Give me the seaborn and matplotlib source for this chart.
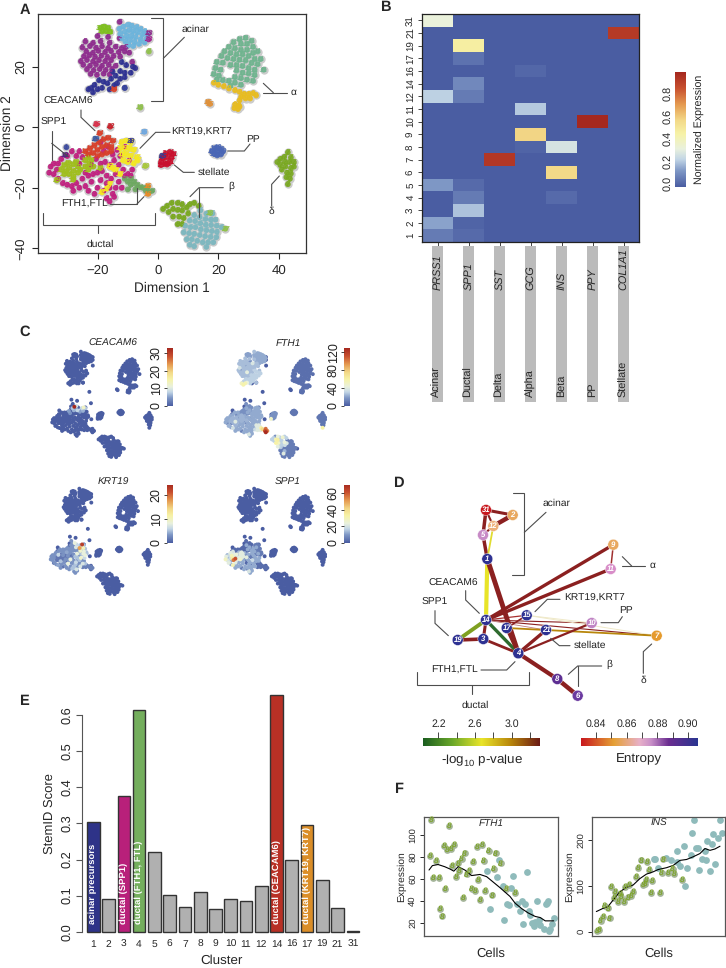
import numpy as np
import pandas as pd
import matplotlib
matplotlib.use("Agg")
import matplotlib.pyplot as plt
from matplotlib.colors import LinearSegmentedColormap
import seaborn as sns

sns.set_style("ticks")
plt.rcParams["font.family"] = ["Liberation Sans", "DejaVu Sans"]
plt.rcParams["mathtext.default"] = "regular"
plt.rcParams["text.hinting"] = "no_hinting"

W, H = 726, 968
fig = plt.figure(figsize=(W / 100, H / 100), dpi=100)


def ax_px(l, t, r, b):
    return fig.add_axes([l / W, 1 - b / H, (r - l) / W, (b - t) / H])


expr_cmap = LinearSegmentedColormap.from_list("expr", [
    (0.0, "#4A5DA2"), (0.14, "#7F98C6"), (0.24, "#C3D6E6"), (0.33, "#E9F1DE"),
    (0.46, "#F7F3A8"), (0.58, "#F3D988"), (0.72, "#E59A50"), (0.86, "#C8502F"),
    (1.0, "#A5281F")])

# ---- t-SNE cells
purple_pts = [(-24, 28.3), (-21.5, 27.8), (-19, 28.4), (-16, 27.9), (-25, 26.3), (-22.5, 26.8), (-20.5, 26.2),
              (-18.5, 26.7), (-16.5, 26.1), (-14, 26.6), (-12, 26.1), (-10.5, 26.5), (-23.7, 25), (-21.5, 24.6),
              (-19.7, 25.2), (-17.5, 24.8), (-15.5, 25.1), (-13, 24.8), (-11, 25), (-9.5, 24.6), (-24.5, 23.4),
              (-22.7, 23.7), (-20.8, 23.2), (-18.7, 23.6), (-16.7, 23.1), (-14.7, 23.5), (-12.5, 23.3), (-25.5, 21.8),
              (-23.5, 22.2), (-21.5, 21.7), (-19.5, 22.1), (-17.5, 21.8), (-15.5, 22.1), (-24.7, 20.6), (-22.5, 20.3),
              (-20.5, 20.7), (-18.5, 20.3), (-16.3, 20.6), (-14, 20.3), (-23.5, 19.1), (-21.3, 18.8), (-19.3, 19.2),
              (-17.3, 18.9), (-15.2, 19.1), (-22.3, 17.6), (-20.2, 17.3), (-18, 17.7), (-16, 17.4), (-12.7, 34.8),
              (-12.7, 29.4), (-16.5, 29.8), (-20, 30.1), (-8.5, 21.5)]
blue_pts = [(-12, 21.5), (-10.5, 20.5), (-8.3, 20), (-12.5, 18.5), (-11, 18), (-9, 18), (-7.5, 19.5), (-14, 17),
            (-15.5, 16), (-16.7, 14.5), (-18, 15), (-19.5, 15.5), (-21, 14), (-22, 13), (-20, 12.5), (-18.5, 13),
            (-16, 12.5), (-14.5, 13.8), (-12.5, 16), (-11, 16.5), (-23, 12.5), (-21.5, 11.5), (-11, 13), (-13.5, 14.5),
            (-15, 18.3)]
skyblue_pts = [(-12.8, 32.5), (-11.5, 33.2), (-10, 33.8), (-8.7, 33.5), (-7.2, 33), (-5.8, 32.4), (-4.5, 31.6),
               (-3.5, 30.5), (-12.5, 30.8), (-11, 31.5), (-9.6, 32), (-8.2, 31.7), (-6.7, 31.3), (-5.2, 30.6),
               (-3.9, 29.2), (-12, 29.3), (-10.4, 30), (-8.9, 30.2), (-7.4, 29.8), (-5.8, 29), (-4.4, 28), (-10.8, 28.3),
               (-9.3, 28.7), (-7.8, 28.2), (-6.3, 27.5), (-9.8, 27), (-8.2, 26.8)]
lime31_pts = [(-19, 32.8), (-17.8, 33.2), (-16.5, 32.8), (-18.5, 31.6), (-17.2, 31.7), (-15.8, 31.5)]
alpha_pts = [(27, 29), (29, 29.5), (31, 28.5), (25, 28), (27.5, 27.5), (29.5, 27.5), (31.5, 26.5), (33, 25), (23.5, 26.5),
             (25.5, 26), (27.5, 25.5), (29.5, 25.5), (31.5, 24.5), (22, 25), (24, 24.5), (26, 24), (28, 24), (30, 23.5),
             (32, 22.5), (34, 22.5), (21, 23.5), (23, 22.8), (25, 22.5), (27, 22.3), (29, 22), (31, 21.2), (33, 20.8),
             (35, 19), (19.5, 21.5), (21.5, 21.3), (24, 20.5), (26, 20.5), (28, 20.2), (30, 19.5), (32, 19), (19, 19.5),
             (20.7, 19), (26, 18.7), (28, 18), (30, 17.7), (32, 17.2), (18.5, 17.5), (20.2, 17), (25.5, 16.5),
             (27.5, 16.2), (29.5, 15.7), (31.5, 15.3), (19.5, 15.7), (21.5, 15.5), (23.5, 15.3), (25.5, 14.7),
             (27.5, 14), (24, 13.7)]
yellow9_pts = [(18.5, 14.7), (20, 14), (21.8, 13.5), (23.5, 12.8), (25.5, 12.2), (27, 11.7), (28.5, 11), (30, 11),
               (31.5, 11.2), (32.5, 10.5), (27.5, 10), (29, 9.5), (30.5, 9.5), (27, 8.9), (25.5, 7.5), (26.7, 7.2),
               (25.3, 6.3), (26.5, 6), (27, 6.8)]
magenta_pts = [(-35.5, -13), (-36, -15), (-34.5, -15.5), (-34.5, -12), (-33, -17), (-31.5, -18.5), (-30, -19), (-28.5, -19.5),
               (-27, -18.5), (-26, -20), (-25, -17), (-24, -19.5), (-23, -21), (-22, -18), (-21, -22), (-20, -20), (-19, -17.5),
               (-18, -21), (-17, -23.5), (-16, -20), (-15, -22), (-24, -15), (-23, -16), (-21.5, -15.5), (-20, -15), (-18.5, -14.5),
               (-17, -16), (-15.5, -17), (-14, -15.5), (-13, -18), (-12, -20), (-11, -16.2), (-10, -15.5), (-19, -12), (-17.5, -11.5),
               (-16, -12.5), (-14.5, -11), (-13, -12.5), (-11.5, -14), (-15, -9), (-13.5, -7.5), (-12.5, -9.5), (-11, -6.5), (-26, -8),
               (-27, -9.5), (-28.5, -8), (-25, -10), (-30, -9.5), (-32, -10.5), (-33, -12), (-26, -12), (-18, -8), (-16.5, -6.5),
               (-9.5, -11), (-8.5, -14), (-9, -16), (-14, -20), (-17, -18.5), (-22, -12.5), (-20.5, -10.5), (-19, -5), (-14.5, -23),
               (-16, -24.5), (-28, -21), (-33.5, -14)]
lime19_pts = [(-32, -14), (-31, -12.5), (-31, -15.5), (-29.8, -11.8), (-29.5, -13.5), (-29.5, -15.5), (-28, -12.3), (-28, -14.5),
              (-28, -16.3), (-26.5, -13), (-26.5, -15), (-25.7, -14), (-30.5, -14.5), (-27.2, -11.5), (-24, -11), (-23, -10),
              (-22, -11), (-24, -13), (-22.8, -12.3), (-21.5, -13), (-23, -14), (-33.5, -17.5), (-19, -13.5), (-28, -17.3)]
red14_pts = [(-24, -8), (-22.5, -7), (-21, -6), (-19.5, -5), (-18, -4), (-16.5, -3.5), (-15, -4.5), (-23, -9), (-21.5, -8.5), (-20, -7.5),
             (-18.5, -6.5), (-17, -6), (-15.5, -6.5), (-20, -9.5), (-18.5, -9), (-17, -8.5), (-15.5, -8), (-19.3, -2)]
yellow17_pts = [(-12, -5), (-10.5, -4.5), (-9, -5), (-12.5, -7), (-11, -7), (-9.5, -7), (-8, -7.5), (-12, -9), (-10.5, -9), (-9, -9.5),
                (-7, -10), (-11.5, -11), (-10, -11.5), (-8, -12), (-6.7, -11), (-16, -13), (-14, -14), (-12.5, -15.5), (-15, -13.5),
                (-17, -20.3), (-16, -18.7), (-18.5, -21.5)]
green4_pts = [(-11, -17), (-10, -18), (-9, -19), (-8, -18), (-7, -19), (-6, -19.8), (-5, -20), (-4, -21), (-3, -21.5), (-2, -21),
              (-9, -17), (-7.5, -20.5), (-3.5, -20), (-10, -20.5)]
orange16_pts = [(-3.3, -19.5), (-3.3, -22)]
stellate_pts = [(1, -11.5), (2.5, -12), (4, -11.5), (1.5, -10.2), (3, -10), (4.5, -10), (2.5, -8.7), (4, -8.3), (5, -8.8), (1, -12.5), (3, -12.3)]
pp_pts = [(17.8, -8), (18.7, -7), (19.8, -6.7), (20.8, -7.2), (21.5, -8), (20.8, -9), (19.6, -9.3), (18.6, -8.8), (19.6, -8)]
delta_pts = [(39.5, -11.5), (40.5, -10.5), (41.8, -9.8), (43, -8.3), (44, -10), (45, -11.5), (45, -13), (43.5, -11.5), (42, -11.5),
             (40.5, -12.5), (42.2, -13), (44, -13.5), (41, -14), (42.7, -15), (44, -15.3), (42.5, -16.5), (43.7, -17), (43, -18.8)]
beta8_pts = [(1.7, -27), (3, -26), (4.5, -25), (6.5, -25), (8, -25.5), (3.5, -28), (5, -27), (6.5, -27.3), (8, -27.5), (9.5, -26.5),
             (10.5, -25.5), (12, -25), (5, -29.5), (7, -29.5), (8.5, -30), (10, -28.5), (6.5, -32), (8, -32), (13.5, -26)]
beta6_pts = [(14, -27.5), (16, -28.5), (18, -28.5), (12, -29), (13.8, -29.7), (15.7, -30.3), (17.5, -30.5), (19, -30.5), (10.5, -30.8),
             (12.3, -31), (14, -31.7), (15.8, -32.2), (17.6, -32.3), (19.4, -32.5), (21, -33), (9, -32.5), (10.7, -33), (12.4, -33),
             (14.2, -33.7), (16, -34), (17.8, -34.3), (19.5, -34.5), (8.5, -34.7), (10.3, -35), (12, -35.2), (13.8, -35.6), (15.6, -36),
             (17.4, -36.2), (19.3, -36.3), (9.5, -37), (11.2, -37), (13, -37.5), (14.8, -38), (16.6, -38), (18.3, -38), (10.5, -38.8),
             (12, -39.3), (16, -39.5)]
# small clusters: number, colour, cell
small_clusters = [("15", "#E0913A", (16.6, 8.3)), ("15", "#E0913A", (17.2, 7.7)), ("13", "#8FC04A", (-5.8, 6.5)),
                  ("15", "#6FA8E0", (-4.5, -1.5)), ("20", "#A8C83A", (-4.2, -12.8)), ("30", "#3A3A8E", (-9, -4.5)),
                  ("26", "#D8304A", (-20.4, 1)), ("22", "#C8202A", (-15.8, 0.2)), ("29", "#3C5AA0", (-20.7, -3.8)),
                  ("1", "#3C4A9E", (-30.3, -6.6)), ("13", "#55287E", (-30.6, -9.2)), ("25", "#3C3A8E", (1.3, -9.5)),
                  ("27", "#8FC04A", (22.3, -33.5)), ("13", "#8FC04A", (17.3, -28.3)), ("14", "#D8402A", (-14.5, 12.5)),
                  ("18", "#8E2C8E", (-3.1, 31)), ("23", "#A0208E", (-3.1, 29)), ("7", "#8FC04A", (-3, 25)), ("1", "#3C4A9E", (-11, 13))]

clusters = {
    "purple": (purple_pts, "5", "#8E2C8E"), "blue": (blue_pts, "1", "#2E3192"), "skyblue": (skyblue_pts, "2", "#6CB4DC"),
    "lime31": (lime31_pts, "31", "#7FBF20"), "alpha": (alpha_pts, "11", "#70B48F"), "yellow9": (yellow9_pts, "9", "#E8BC20"),
    "magenta": (magenta_pts, "3", "#C0207F"), "lime19": (lime19_pts, "19", "#A0BE1E"), "red14": (red14_pts, "14", "#D8402A"),
    "yellow17": (yellow17_pts, "17", "#F5E820"), "green4": (green4_pts, "4", "#6DA860"), "orange16": (orange16_pts, "16", "#E88B2A"),
    "stellate": (stellate_pts, "21", "#C8102E"), "pp": (pp_pts, "10", "#4A66B5"), "delta": (delta_pts, "7", "#79A820"),
    "beta8": (beta8_pts, "8", "#79A820"), "beta6": (beta6_pts, "6", "#7DB7BF"),
}

rows = []
for name, (pts, lab, col) in clusters.items():
    for i, p in enumerate(pts):
        rows.append(dict(x=p[0], y=p[1], cluster=name, idx=i, label=lab, color=col))
for lab, col, p in small_clusters:
    rows.append(dict(x=p[0], y=p[1], cluster="small", idx=0, label=lab, color=col))
cells = pd.DataFrame(rows)

# ---- panel C: expression level per cluster, plus single cells that stand out
ceacam6_levels = {}
ceacam6_spots = {"red14": {4: 33, 1: 5, 3: 7, 5: 9, 8: 4, 10: 6, 11: 5, 12: 8}, "yellow17": {0: 8, 1: 13, 2: 7, 4: 5}, "magenta": {40: 5, 42: 6}}
fth1_levels = {"purple": 26, "skyblue": 22, "blue": 30, "lime31": 20, "alpha": 6, "yellow9": 6, "magenta": 22, "lime19": 24,
               "red14": 16, "yellow17": 22, "green4": 40, "orange16": 120, "stellate": 16, "pp": 8, "delta": 8, "beta8": 30, "beta6": 10}
fth1_spots = {"blue": {20: 52, 21: 58, 22: 26, 14: 56, 15: 44}, "purple": {3: 16, 9: 38, 14: 12, 20: 36, 28: 10, 36: 42},
              "orange16": {0: 105, 1: 128}, "green4": {5: 75, 7: 110, 8: 115, 9: 100, 4: 60, 12: 50},
              "beta8": {6: 58, 7: 62, 10: 48, 12: 60, 13: 52, 16: 42, 2: 16, 3: 44},
              "beta6": {3: 44, 4: 38, 8: 30, 9: 34, 15: 28, 24: 24, 30: 40},
              "magenta": {2: 14, 6: 36, 12: 12, 18: 38, 24: 12, 30: 34, 35: 10, 44: 14, 50: 10},
              "delta": {17: 60}, "stellate": {9: 50}, "lime19": {2: 14, 7: 40, 11: 16}}
krt19_levels = {"magenta": 3, "lime19": 1.5, "red14": 3, "yellow17": 5, "green4": 2}
krt19_spots = {"yellow17": {1: 22, 3: 17, 5: 10, 7: 9, 9: 8, 13: 8},
               "magenta": {6: 4, 9: 1, 13: 8, 17: 5, 20: 7, 22: 1, 24: 8, 27: 6, 30: 7, 33: 1, 36: 8, 38: 9, 42: 7, 53: 8, 54: 6},
               "red14": {2: 1, 5: 8, 6: 6, 12: 7}, "lime19": {3: 6, 8: 5, 15: 4}, "green4": {1: 7, 3: 5}}
spp1_levels = {"magenta": 12, "lime19": 22, "red14": 2, "yellow17": 5, "green4": 3}
spp1_spots = {"lime19": {0: 18, 1: 30, 2: 12, 4: 26, 5: 55, 6: 14, 7: 60, 12: 34, 13: 24, 9: 16},
              "magenta": {0: 22, 1: 28, 2: 20, 4: 18, 6: 30, 12: 5, 16: 2, 18: 20, 21: 26, 24: 3, 28: 18, 33: 3, 35: 2, 43: 2, 44: 3, 45: 2, 46: 14,
                          47: 20, 48: 22, 49: 18}}

# ---- panel B
heat_rows = ["31", "21", "19", "17", "16", "14", "12", "11", "10", "9", "8", "7", "6", "5", "4", "3", "2", "1"]
heat_genes = ["PRSS1", "SPP1", "SST", "GCG", "INS", "PPY", "COL1A1"]
heat_types = ["Acinar", "Ductal", "Delta", "Alpha", "Beta", "PP", "Stellate"]
heat_values = [
    [0.32, 0, 0, 0, 0, 0, 0],
    [0, 0, 0, 0, 0, 0, 0.89],
    [0, 0.46, 0, 0, 0, 0, 0],
    [0, 0.05, 0, 0, 0, 0, 0],
    [0, 0, 0, 0.025, 0, 0, 0],
    [0, 0.10, 0, 0, 0, 0, 0],
    [0.22, 0.07, 0, 0, 0, 0, 0],
    [0, 0, 0, 0.21, 0, 0, 0],
    [0, 0, 0, 0, 0, 0.95, 0],
    [0, 0, 0, 0.56, 0, 0, 0],
    [0, 0, 0, 0.015, 0.27, 0, 0],
    [0, 0, 0.9, 0, 0, 0, 0],
    [0, 0, 0, 0, 0.55, 0, 0],
    [0.13, 0.03, 0, 0, 0, 0, 0],
    [0, 0.07, 0, 0, 0.03, 0, 0],
    [0, 0.20, 0, 0, 0, 0, 0],
    [0.15, 0.015, 0, 0, 0, 0, 0],
    [0.07, 0.03, 0, 0, 0, 0, 0],
]

# ---- panel D
node_names = ["31", "2", "12", "5", "1", "9", "11", "14", "15", "17", "10", "21", "7", "19", "3", "4", "8", "6"]
node_x = [486, 512.7, 493.3, 483, 487.3, 613.3, 610.7, 486, 526.7, 506.7, 591.7, 546, 656.7, 457.7, 483.3, 518.3, 557.3, 577.7]
node_y = [510, 515, 526, 535, 559, 544.7, 569, 620, 615.3, 628, 623, 630, 635.7, 640, 639, 653.3, 679, 695.7]
node_colors = ["#C8181E", "#E8A860", "#EDB07A", "#C78AC6", "#2E3192", "#E8A860", "#D88DC8", "#2E3192", "#2E3192", "#2E3192",
               "#C084C4", "#2E3192", "#E59A2C", "#2E3192", "#2E3192", "#2E3192", "#5D2E92", "#6B3AA0"]
edges = [("14", "15", "#A83030", 0.9), ("14", "10", "#8B2020", 0.8), ("14", "7", "#8B2020", 0.8), ("15", "10", "#EFE9C8", 0.7),
         ("15", "7", "#EFE9C8", 0.7), ("21", "14", "#C08080", 0.6),
         ("31", "2", "#8B2020", 2.2), ("31", "12", "#8B2020", 1.5), ("31", "5", "#8B2020", 2.5), ("2", "12", "#8B2020", 3.2),
         ("12", "5", "#8B2020", 1.5), ("5", "1", "#8B2020", 2.5), ("12", "1", "#E0DC30", 1.3), ("1", "14", "#E8E428", 3),
         ("1", "4", "#8B2020", 3.5), ("14", "9", "#8B2020", 2.4), ("14", "11", "#8B2020", 2.4), ("9", "11", "#A03030", 1.1),
         ("14", "19", "#7FA020", 2.8), ("14", "3", "#8B2020", 2.2), ("14", "4", "#2E6B2E", 2.4), ("19", "3", "#8B2020", 2.6),
         ("3", "4", "#8B2020", 2), ("17", "4", "#8B2020", 2.5), ("17", "7", "#B8860B", 1.3), ("17", "15", "#8B2020", 1.2),
         ("21", "4", "#8B2020", 2.4), ("10", "4", "#8B2020", 1.6), ("4", "8", "#8B2020", 3), ("8", "6", "#8B2020", 3.2)]

# ---- panel E
stem_clusters = ["1", "2", "3", "4", "5", "6", "7", "8", "9", "10", "11", "12", "14", "16", "17", "19", "21", "31"]
stem_scores = [0.303, 0.09, 0.377, 0.615, 0.222, 0.102, 0.069, 0.11, 0.063, 0.09, 0.084, 0.128, 0.657, 0.2, 0.297, 0.143, 0.067, 0.001]
stem_colors = ["#2E3388", "#B0B0B0", "#B8207A", "#74AE5D", "#B0B0B0", "#B0B0B0", "#B0B0B0", "#B0B0B0", "#B0B0B0", "#B0B0B0",
               "#B0B0B0", "#B0B0B0", "#B83025", "#B0B0B0", "#DB8E28", "#B0B0B0", "#B0B0B0", "#B0B0B0"]
stem_notes = {"1": "acinar precursors", "3": "ductal (SPP1)", "4": "ductal (FTH1, FTL)", "14": "ductal (CEACAM6)", "17": "ductal (KRT19, KRT7)"}

# ---- panel F
fth1_green_x = [125, 178, 163, 193, 173, 183, 261, 276, 296, 317, 224, 215, 204, 188, 121, 140, 130, 148, 167, 152, 157, 219, 245, 255, 286,
                271, 307, 250, 281, 332, 311, 265, 198, 208, 230, 238, 347, 374]
fth1_green_y = [113, 108, 90, 91, 86, 87, 89, 91, 85, 83, 83, 78, 74, 72, 81, 76, 61, 61, 51, 33, 26, 43, 51, 49, 49, 41, 45, 75, 76, 74, 69, 59,
                62, 67, 64, 67, 51, 47]
fth1_teal_x = [327, 291, 321, 301, 338, 362, 369, 409, 350, 357, 380, 395, 405, 389, 416, 419, 440, 466, 472, 469, 343, 400, 425, 430, 445, 450,
               460, 477, 485, 490, 480, 435]
fth1_teal_y = [77, 67, 62, 33, 54, 52, 63, 66, 37, 36, 37, 40, 37, 31, 31, 27, 40, 37, 40, 38, 23, 19, 20, 17, 23, 18, 15, 13, 19, 25, 15, 21]
fth1_line_x = [118, 128, 145, 165, 180, 192, 205, 225, 245, 270, 290, 310, 330, 345, 360, 375, 395, 415, 435, 450, 465, 490]
fth1_line_y = [68, 72, 73, 71, 69, 67, 71, 68, 63, 64, 62, 57, 52, 48, 44, 38, 33, 29, 26, 25, 22, 22]
ins_green_x = [622, 628, 633, 640, 645, 655, 660, 665, 672, 677, 686, 690, 702, 695, 705, 717, 715, 725, 730, 740, 745, 753, 772, 760, 766, 770,
               785, 810, 788, 779, 820, 815, 835, 852, 877, 848]
ins_green_y = [1, 4, 23, 33, 56, 51, 29, 97, 73, 87, 65, 82, 65, 76, 98, 102, 75, 78, 87, 119, 140, 156, 153, 102, 104, 113, 84, 84, 111, 135,
               158, 129, 129, 126, 114, 138]
ins_teal_x = [793, 797, 805, 828, 842, 860, 862, 870, 892, 882, 903, 907, 912, 918, 925, 928, 935, 948, 945, 952, 965, 960, 975, 968, 985, 990,
              995, 885]
ins_teal_y = [158, 158, 140, 162, 156, 153, 176, 144, 140, 187, 167, 216, 244, 183, 184, 135, 160, 156, 177, 198, 191, 132, 149, 214, 206, 244,
              216, 100]
ins_line_x = [620, 640, 655, 670, 690, 710, 730, 750, 770, 790, 805, 830, 850, 870, 890, 910, 930, 945, 960, 975, 990]
ins_line_y = [44, 51, 55, 69, 87, 97, 102, 116, 126, 131, 136, 140, 145, 156, 158, 164, 171, 182, 178, 181, 187]

# ---- A
ax = ax_px(38, 14, 306, 253)
sns.scatterplot(data=cells, x="x", y="y", color="#CCCCCC", s=36, linewidth=0, ax=ax, legend=False, zorder=1)
sns.scatterplot(data=cells, x="x", y="y", hue="color", palette={c: c for c in cells["color"].unique()},
                s=17, linewidth=0, alpha=0.9, ax=ax, legend=False, zorder=2)
for r in cells.itertuples():
    ax.text(r.x, r.y, r.label, color=r.color, fontsize=5.4, style="italic", weight="bold", ha="center", va="center", zorder=3)
ax.set_xlim(-39.7, 49)
ax.set_ylim(-41.5, 37.4)
ax.set_xticks([-20, 0, 20, 40])
ax.set_yticks([-40, -20, 0, 20])
ax.tick_params(labelsize=9.5, length=4, width=0.8, pad=4)
plt.setp(ax.get_yticklabels(), rotation=90, va="center")
ax.set_xlabel("Dimension 1", fontsize=9.8, labelpad=4)
ax.set_ylabel("Dimension 2", fontsize=9.8, labelpad=1)
for s in ax.spines.values():
    s.set_linewidth(0.9)
    s.set_color("#333333")

# ---- B
heat_df = pd.DataFrame(heat_values, index=heat_rows, columns=heat_genes)
ax = ax_px(422, 14, 639, 242)
sns.heatmap(heat_df, ax=ax, cmap=expr_cmap, vmin=0, vmax=0.95, cbar=False, xticklabels=True, yticklabels=True)
ax.set_xticklabels([])
ax.tick_params(axis="both", length=3, width=0.7, color="#444444", pad=1.5)
ax.tick_params(axis="y", labelsize=7, labelrotation=90)
plt.setp(ax.get_yticklabels(), va="center")
for s in ax.spines.values():
    s.set_visible(True)
    s.set_linewidth(0.9)
    s.set_color("#222222")


def gradient_bar(l, t, r, b, cmap, lo, hi, ticks, labels, fs=8.5, tick_len=0):
    cax = ax_px(l, t, r, b)
    cax.imshow(np.linspace(1, 0, 256).reshape(-1, 1), cmap=cmap, aspect="auto", extent=[0, 1, lo, hi])
    cax.set_xticks([])
    cax.set_yticks(ticks)
    cax.set_yticklabels(labels, rotation=90, va="center", fontsize=fs)
    cax.tick_params(length=tick_len, pad=1.5, width=0.6)
    for s in cax.spines.values():
        s.set_visible(False)
    return cax


gradient_bar(675, 72, 686, 187, expr_cmap, -0.03, 0.99, [0, 0.2, 0.4, 0.6, 0.8], ["0.0", "0.2", "0.4", "0.6", "0.8"], fs=7.8)

# ---- C
c_panels = [("CEACAM6", 47.7, 348, 33, ceacam6_levels, ceacam6_spots, [0, 10, 20, 30], 167, 113, 343),
            ("FTH1", 221, 348, 130, fth1_levels, fth1_spots, [0, 40, 80, 120], 344, 288, 343),
            ("KRT19", 46.2, 485, 24, krt19_levels, krt19_spots, [0, 10, 20], 167, 113, 482),
            ("SPP1", 221, 485, 70, spp1_levels, spp1_spots, [0, 20, 40, 60], 344, 288, 482)]
c_titles = []
for gene, left, top, vmax, levels, spots, cticks, bar_x, title_x, title_y in c_panels:
    df = cells.copy()
    df["value"] = [levels.get(c, 0.0) for c in df["cluster"]]
    for cname, spot in spots.items():
        for i, v in spot.items():
            df.loc[(df["cluster"] == cname) & (df["idx"] == i), "value"] = v
    df = df.sort_values("value")
    ax = ax_px(left, top, left + 109, top + 112)
    sns.scatterplot(data=df, x="x", y="y", hue="value", palette=expr_cmap, hue_norm=(0, vmax), s=8, linewidth=0, ax=ax, legend=False)
    ax.set_xlim(-39.7, 49)
    ax.set_ylim(-41.5, 37.4)
    ax.axis("off")
    c_titles.append((gene, title_x, title_y))
    gradient_bar(bar_x, top, bar_x + 6, top + 58, expr_cmap, 0, vmax, cticks, [str(t) for t in cticks], fs=9, tick_len=2)

# ---- E
ax = ax_px(81.7, 694.7, 362, 931.7)
sns.barplot(x=stem_clusters, y=stem_scores, hue=stem_clusters, palette=dict(zip(stem_clusters, stem_colors)), order=stem_clusters,
            legend=False, width=0.83, edgecolor="#333333", linewidth=1, saturation=1, ax=ax)
ax.set_xlim(-0.76, 17.6)
ax.set_ylim(0, 0.657)
sns.despine(ax=ax, bottom=True)
ax.spines["left"].set_bounds(0, 0.6)
ax.spines["left"].set_color("#555555")
ax.set_yticks([0, 0.1, 0.2, 0.3, 0.4, 0.5, 0.6])
ax.set_yticklabels(["0.0", "0.1", "0.2", "0.3", "0.4", "0.5", "0.6"], rotation=90, va="center", fontsize=9.2)
ax.tick_params(axis="y", length=4, width=0.8, pad=2, color="#555555")
ax.tick_params(axis="x", length=0, labelsize=7.4, pad=5.5)
ax.set_xlabel("Cluster", fontsize=9.6, labelpad=4)
ax.set_ylabel("StemID Score", fontsize=9.4, labelpad=4)
for name, note in stem_notes.items():
    ax.text(stem_clusters.index(name), 0.022, note, rotation=90, color="white", fontsize=6.8, weight="bold", ha="center", va="bottom")
for p in ax.patches:
    p.set_clip_on(False)

# ---- F
f_panels = [(424, 558, "FTH1", fth1_green_x, fth1_green_y, fth1_teal_x, fth1_teal_y, fth1_line_x, fth1_line_y, (103, 503), (8.3, 116),
             [20, 40, 60, 80, 100]),
            (592, 725, "INS", ins_green_x, ins_green_y, ins_teal_x, ins_teal_y, ins_line_x, ins_line_y, (607, 1005), (-9.5, 251),
             [0, 100, 200])]
for l, r, gene, gx, gy, tx, ty, lx, ly, xl, yl, yt in f_panels:
    ax = ax_px(l, 817, r, 936)
    sns.scatterplot(x=tx, y=ty, color="#8FBBBB", s=24, linewidth=0, ax=ax, legend=False)
    sns.scatterplot(x=gx, y=gy, color="#A5B59A", s=24, linewidth=0, ax=ax, legend=False)
    for a, b in zip(gx, gy):
        ax.text(a, b, "8", color="#7FA52E", fontsize=6, style="italic", weight="bold", ha="center", va="center")
    sns.lineplot(x=lx, y=ly, color="black", linewidth=0.8, ax=ax, legend=False, estimator=None, sort=False)
    ax.set_xlim(*xl)
    ax.set_ylim(*yl)
    ax.set_xticks([])
    ax.set_yticks(yt)
    ax.set_yticklabels([str(t) for t in yt], rotation=90, va="center", fontsize=6.8)
    ax.tick_params(axis="y", length=3, width=0.7, pad=2)
    ax.set_xlabel("Cells", fontsize=9.4, labelpad=8)
    ax.set_ylabel("Expression", fontsize=7.4, labelpad=1.5)
    ax.text(0.5, 0.945, gene, transform=ax.transAxes, fontsize=7.2, style="italic", ha="center", va="center")
    for s in ax.spines.values():
        s.set_linewidth(0.9)
        s.set_color("#555555")

# ---- overlay in pixel units: network of D, gray strips of B, callouts, letters
ov = fig.add_axes([0, 0, 1, 1], facecolor="none", zorder=20)
ov.set_xlim(0, W)
ov.set_ylim(H, 0)
ov.axis("off")

for i, (gene, ctype) in enumerate(zip(heat_genes, heat_types)):
    cx = 437.5 + 31 * i
    ov.add_patch(plt.Rectangle((cx - 5.5, 246), 11, 156, color="#BBBBBB", lw=0))
    ov.text(cx, 290, gene, rotation=90, style="italic", fontsize=7.8, ha="center", va="bottom")
    ov.text(cx, 397, ctype, rotation=90, fontsize=7.8, ha="center", va="bottom")
ov.text(700, 129, "Normalized Expression", rotation=90, fontsize=7.7, color="#222222", ha="center", va="center")
for gene, x, y in c_titles:
    ov.text(x, y, gene, fontsize=7.3, style="italic", ha="center", va="center")

pos = dict(zip(node_names, zip(node_x, node_y)))
for a, b, col, lw in edges:
    ov.plot([pos[a][0], pos[b][0]], [pos[a][1], pos[b][1]], color=col, lw=lw, solid_capstyle="round", zorder=2)
sns.scatterplot(x=node_x, y=node_y, hue=node_names, palette=dict(zip(node_names, node_colors)), s=62, linewidth=0.3, edgecolor="white",
                ax=ov, legend=False, zorder=3)
ov.set_xlim(0, W)
ov.set_ylim(H, 0)
ov.axis("off")
for n, x, y in zip(node_names, node_x, node_y):
    ov.text(x, y, n, color="white", fontsize=5.6, style="italic", weight="bold", ha="center", va="center", zorder=4)

# callout text and lines, given in 3x crop coordinates of each panel
callouts_a = [([453, 490, 490, 453], [55, 55, 302, 302]), ([490, 553], [175, 112]), ([790, 820], [250, 278]), ([788, 862], [278, 278]),
              ([243, 243, 285], [330, 352, 392]), ([155, 155], [393, 480]), ([155, 205], [430, 470]), ([510, 467, 420], [397, 397, 445]),
              ([683, 733, 750], [453, 453, 432]), ([523, 550, 583], [495, 517, 517]), ([670, 597, 570], [563, 563, 590]), ([597, 597], [563, 650]),
              ([815, 815, 838], [618, 553, 528]), ([330, 410, 410], [613, 613, 565]), ([410, 432], [613, 590]),
              ([130, 130, 465, 465], [640, 675, 675, 640]), ([293, 293], [675, 700])]
labels_a = [("acinar", 587, 88), ("CEACAM6", 205, 305), ("SPP1", 162, 368), ("KRT19,KRT7", 606, 396), ("PP", 758, 417), ("stellate", 642, 517),
            ("FTH1,FTL", 255, 613), ("ductal", 302, 733), ("α", 882, 277), ("β", 694, 560), ("δ", 815, 635)]
callouts_d = [([338, 373, 373, 337], [68, 68, 315, 315]), ([373, 438], [187, 127]), ([667, 695], [260, 288]), ([665, 735], [288, 288]),
              ([197, 197, 238], [362, 390, 430]), ([105, 105, 145], [422, 460, 497]), ([480, 442, 405], [388, 388, 425]),
              ([603, 655, 667], [458, 458, 440]), ([452, 478, 510], [505, 527, 527]), ([505, 533, 605], [613, 588, 588]), ([533, 533], [588, 648]),
              ([730, 730, 755], [610, 545, 522]), ([243, 320, 345], [600, 600, 575]), ([52, 52, 388, 388], [605, 645, 645, 605]), ([216, 216], [645, 672])]
labels_d = [("acinar", 470, 100), ("CEACAM6", 160, 340), ("SPP1", 105, 397), ("KRT19,KRT7", 584, 383), ("PP", 677, 422), ("stellate", 570, 527),
            ("FTH1,FTL", 165, 600), ("ductal", 225, 705), ("α", 758, 285), ("β", 628, 583), ("δ", 730, 630)]
for lines, labs, ox, oy in [(callouts_a, labels_a, 0, 0), (callouts_d, labels_d, 400, 470)]:
    for xs, ys in lines:
        ov.plot([ox + v / 3 for v in xs], [oy + v / 3 for v in ys], color="#4D4D4D", lw=0.8, solid_joinstyle="miter", zorder=5)
    for t, x, y in labs:
        ov.text(ox + x / 3, oy + y / 3, t, fontsize=7.4, color="#222222", ha="center", va="center", zorder=6)

for letter, x, y in [("A", 25, 10), ("B", 385, 7), ("C", 25, 332), ("D", 398, 483), ("E", 24, 701), ("F", 398, 789)]:
    ov.text(x, y, letter, fontsize=10.5, weight="bold", ha="center", va="center")

# ---- colour keys under D
p_cmap = LinearSegmentedColormap.from_list("p", [(0, "#1B5E20"), (0.25, "#6AA82A"), (0.5, "#E9E52A"), (0.75, "#B8860B"), (1, "#6B1A14")])
ent_cmap = LinearSegmentedColormap.from_list("e", [(0, "#C8181E"), (0.28, "#E5A035"), (0.5, "#E8B0C8"), (0.6, "#C88FC8"), (0.75, "#6B2D90"), (1, "#2A3590")])
for l, r, cmap, lo, hi, major, minor, title in [
        (423.3, 540, p_cmap, 2.036, 3.309, [2.2, 2.6, 3.0], [2.4, 2.8, 3.2], "-log$_{10}$ p-value"),
        (580.7, 697.3, ent_cmap, 0.830, 0.906, [0.84, 0.86, 0.88, 0.90], [0.85, 0.87, 0.89], "Entropy")]:
    cax = ax_px(l, 738, r, 746)
    cax.imshow(np.linspace(0, 1, 256).reshape(1, -1), cmap=cmap, aspect="auto", extent=[lo, hi, 0, 1])
    cax.set_yticks([])
    cax.xaxis.tick_top()
    cax.set_xticks(major)
    cax.set_xticklabels([f"{t:.1f}" if hi > 1 else f"{t:.2f}" for t in major], fontsize=7.6)
    cax.set_xticks(minor, minor=True)
    cax.tick_params(axis="x", which="both", length=4, width=0.6, pad=2)
    for s in cax.spines.values():
        s.set_visible(False)
    cax.set_xlabel(title, fontsize=9.6, labelpad=5)

fig.savefig("out.png", dpi=100)
